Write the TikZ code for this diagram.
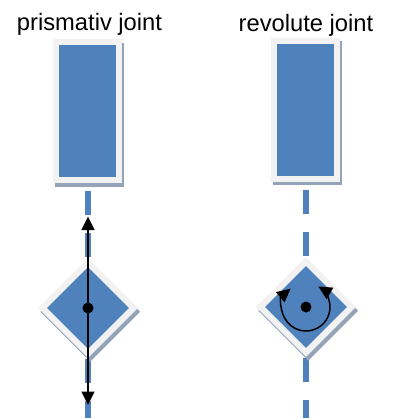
\documentclass[tikz,border=0pt]{standalone}
\usepackage{fontspec}
\setmainfont{Liberation Sans}
\usetikzlibrary{shapes.geometric, arrows.meta, shadows}
\definecolor{jointblue}{HTML}{4F81BD}
\definecolor{jointframe}{HTML}{F2F2F2}
\definecolor{jointshadow}{HTML}{95A3B8}
\tikzstyle{framed} = [
  draw=none, fill=jointframe, inner sep=0pt,
  drop shadow={shadow xshift=0.045cm, shadow yshift=-0.075cm, fill=jointshadow, opacity=1}
]
\tikzstyle{linkframe} = [framed, rectangle, minimum width=1.38cm, minimum height=2.88cm]
\tikzstyle{linkfill} = [rectangle, fill=jointblue, inner sep=0pt, minimum width=1.14cm, minimum height=2.64cm]
\tikzstyle{jointframe} = [framed, diamond, aspect=1, minimum width=2cm, minimum height=2cm]
\tikzstyle{jointfill} = [diamond, aspect=1, fill=jointblue, inner sep=0pt, minimum width=1.64cm, minimum height=1.64cm]
\tikzstyle{jointdot} = [circle, fill=black, inner sep=0pt, minimum size=0.22cm]
\tikzstyle{axisline} = [jointblue, line width=0.12cm, dash pattern=on 0.48cm off 0.36cm]
\tikzstyle{arrow} = [{Triangle[length=0.27cm, width=0.26cm]}-{Triangle[length=0.27cm, width=0.26cm]}, line width=0.03cm, black]
\tikzstyle{title} = [anchor=base, font=\fontsize{13.5pt}{16pt}\selectfont, inner sep=0pt]

\begin{document}
\begin{tikzpicture}

  \useasboundingbox (0, 0) rectangle (8, -8.36);

  % Titles
  \node[title] (titleP) at (1.79, -0.60) {prismativ joint};
  \node[title] (titleR) at (6.12, -0.63) {revolute joint};

  % Axes
  \coordinate (axisTopP) at (1.76, -3.82);
  \coordinate (axisEndP) at (1.76, -8.36);
  \coordinate (axisTopR) at (6.12, -3.80);
  \coordinate (axisEndR) at (6.12, -8.36);
  \draw[axisline] (axisTopP) -- (axisEndP);
  \draw[axisline] (axisTopR) -- (axisEndR);

  % Links
  \node[linkframe] (linkP) at (1.75, -2.22) {};
  \node[linkfill] at (linkP.center) {};
  \node[linkframe] (linkR) at (6.11, -2.19) {};
  \node[linkfill] at (linkR.center) {};

  % Joints
  \node[jointframe] (jointP) at (1.76, -6.16) {};
  \node[jointfill] at (jointP.center) {};
  \node[jointdot] (dotP) at (jointP.center) {};
  \node[jointframe] (jointR) at (6.12, -6.14) {};
  \node[jointfill] at (jointR.center) {};
  \node[jointdot] (dotR) at (jointR.center) {};

  % Motion
  \coordinate (slideTop) at (1.76, -4.33);
  \coordinate (slideEnd) at (1.76, -8.10);
  \draw[arrow] (slideTop) -- (slideEnd);
  \draw[arrow] ([shift={(130:0.48)}]dotR.center) arc[start angle=130, end angle=419, radius=0.48];

\end{tikzpicture}
\end{document}
